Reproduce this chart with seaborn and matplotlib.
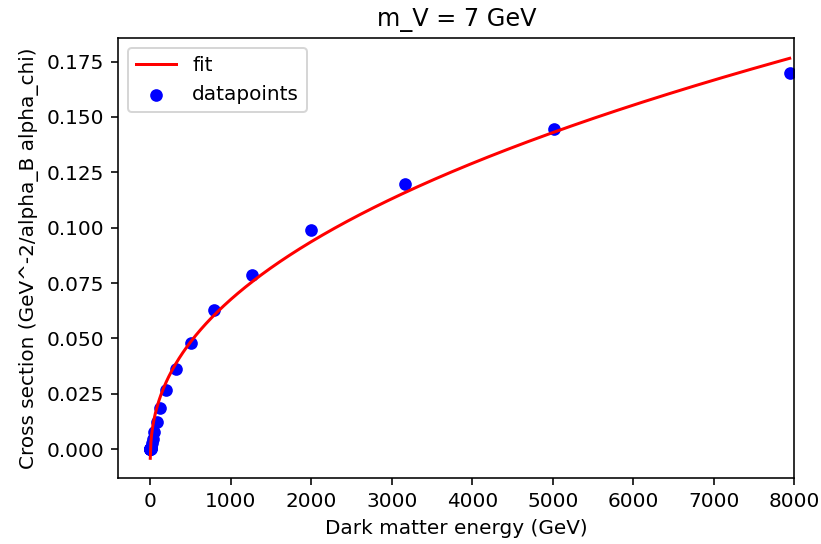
import numpy as np
import matplotlib
matplotlib.use("Agg")
import matplotlib.pyplot as plt
import seaborn as sns

# Data
energy = [0.126, 0.2, 0.32, 0.5, 0.79, 1.26, 2.0, 3.2, 5.0, 7.9,
          12.6, 20, 32, 50, 79, 126, 200, 316, 501, 794,
          1259, 1995, 3162, 5012, 7943]
cross_section = [0.0, 0.0, 0.00001, 0.00002, 0.00003, 0.00005, 0.0001, 0.0002, 0.0004, 0.0007,
                 0.0012, 0.0026, 0.0044, 0.0076, 0.0125, 0.0185, 0.0267, 0.0361, 0.0480, 0.0629,
                 0.0785, 0.0988, 0.1197, 0.1444, 0.1697]

# Fit parameters (power law with offset: a * x**b + c)
fit_a = 0.0035
fit_b = 0.44
fit_c = -0.0055

title = "m_V = 7 GeV"
xlabel = "Dark matter energy (GeV)"
ylabel = "Cross section (GeV^-2/alpha_B alpha_chi)"

x_fit = np.linspace(min(energy), max(energy), 1000)
y_fit = fit_a * x_fit ** fit_b + fit_c

dpi = 144
fig = plt.figure(figsize=(821 / dpi, 544 / dpi), dpi=dpi)
ax = fig.add_axes([118.3 / 821, 1 - 478.3 / 544, (794.3 - 118.3) / 821, (478.3 - 38.3) / 544])

sns.lineplot(x=x_fit, y=y_fit, color="red", label="fit", ax=ax, linewidth=1.5, sort=False)
sns.scatterplot(x=energy, y=cross_section, color="blue", label="datapoints", ax=ax,
                s=40, linewidth=0)

ax.margins(0.05)
ax.autoscale_view()
ax.set_xlim(right=8000)
ax.set_title(title, fontsize=12)
ax.set_xlabel(xlabel, fontsize=10)
ax.set_ylabel(ylabel, fontsize=10)
ax.legend(loc="upper left", fontsize=10)

fig.savefig("out.png", dpi=dpi)
